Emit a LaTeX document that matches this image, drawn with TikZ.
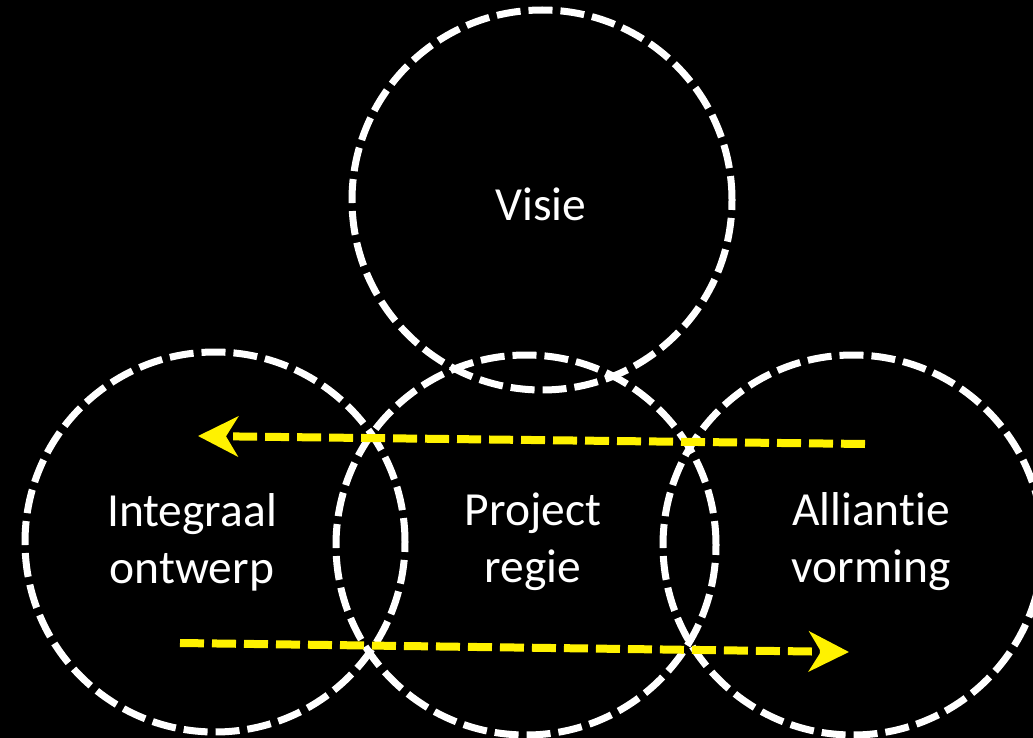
\documentclass[tikz,border=0pt]{standalone}
\usepackage{fontspec}
\setmainfont[Ligatures=NoCommon]{Carlito}
\usetikzlibrary{arrows.meta}
\tikzset{
  ring/.style={circle, draw=white, line width=7pt, dash pattern=on 24pt off 8pt,
    minimum size=380pt, inner sep=0pt},
  txt/.style={text=white, align=center, font=\fontsize{47.5}{57}\selectfont},
  flow/.style={draw=yellow, line width=8pt, dash pattern=on 24pt off 8pt,
    -{Stealth[length=40pt, width=40pt, inset=12pt]}}
}
\begin{document}
\begin{tikzpicture}[x=1pt, y=-1pt]
 \fill[black] (0,0) rectangle (1033,738);
 \useasboundingbox (0,0) rectangle (1033,738);
 \clip (0,0) rectangle (1033,738);
 %
 \node[ring] (visie) at (542,200) {};
 \node[ring] (integraal) at (215,542) {};
 \node[ring] (regie) at (526,545) {};
 \node[ring] (alliantie) at (853,545) {};
 %
 \node[txt, anchor=base] (tvisie) at (541,220) {Visie};
 \node[txt] (tintegraal) at (192,542) {Integraal\\ontwerp};
 \node[txt] (tregie) at (533,542) {Project\\regie};
 \node[txt] (talliantie) at (871,542) {Alliantie\\vorming};
 %
 \coordinate (a1) at (865,444);
 \coordinate (a2) at (198,436);
 \coordinate (b1) at (180,643);
 \coordinate (b2) at (849,652);
 \draw[flow] (a1) -- (a2);
 \draw[flow] (b1) -- (b2);
\end{tikzpicture}
\end{document}
